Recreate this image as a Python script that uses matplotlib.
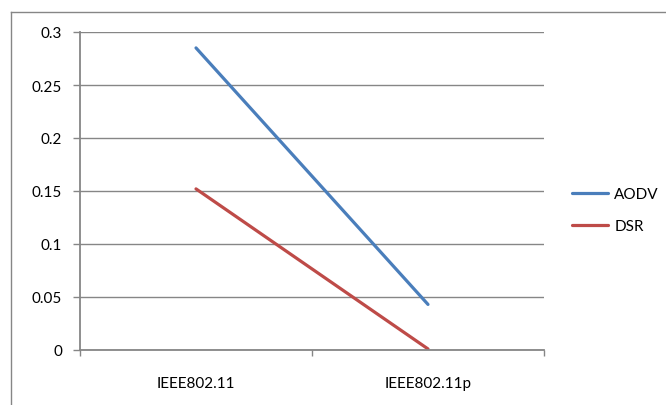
import matplotlib.pyplot as plt
from matplotlib.lines import Line2D

# данные
categories = ['IEEE802.11', 'IEEE802.11p']
aodv = [0.285, 0.043]
dsr = [0.152, 0.001]

plt.rcParams['font.family'] = ['Lato', 'DejaVu Sans']

fig = plt.figure(figsize=(6.66, 4.06), dpi=100)
ax = fig.add_axes([80 / 666, 1 - 351 / 406, 464 / 666, 318 / 406])

x = [1, 2]
ax.plot(x, aodv, color='#4A7EBB', lw=2.3, label='AODV', solid_capstyle='round')
ax.plot(x, dsr, color='#BE4B48', lw=2.3, label='DSR', solid_capstyle='round')

ax.set_xlim(0.5, 2.5)
ax.set_ylim(0, 0.3)
ax.set_yticks([0, 0.05, 0.1, 0.15, 0.2, 0.25, 0.3])
ax.set_yticklabels(['0', '0.05', '0.1', '0.15', '0.2', '0.25', '0.3'])
ax.set_xticks([0.5, 1.5, 2.5])
ax.set_xticklabels([])
ax.set_xticks(x, minor=True)
ax.set_xticklabels(categories, minor=True)
ax.tick_params(axis='x', which='minor', length=0, pad=19, labelsize=11)
ax.tick_params(axis='x', which='major', length=4, color='#868686', width=1)
ax.tick_params(axis='y', length=5, color='#868686', width=1, labelsize=11, pad=8)

ax.grid(axis='y', color='#868686', lw=1)
ax.set_axisbelow(True)
for s in ['top', 'right']:
    ax.spines[s].set_visible(False)
for s in ['left', 'bottom']:
    ax.spines[s].set_color('#868686')
    ax.spines[s].set_linewidth(1.3)

ax.legend(loc='center left', bbox_to_anchor=(1.03, 0.44), frameon=False,
          fontsize=11, handlelength=2.4, handletextpad=0.4, labelspacing=1.15)

# рамка диаграммы
fig.add_artist(Line2D([11 / 666, 11 / 666], [0, 1 - 13 / 406], color='#868686', lw=1))
fig.add_artist(Line2D([11 / 666, 1], [1 - 13 / 406, 1 - 13 / 406], color='#868686', lw=1))

plt.savefig('out.png')
